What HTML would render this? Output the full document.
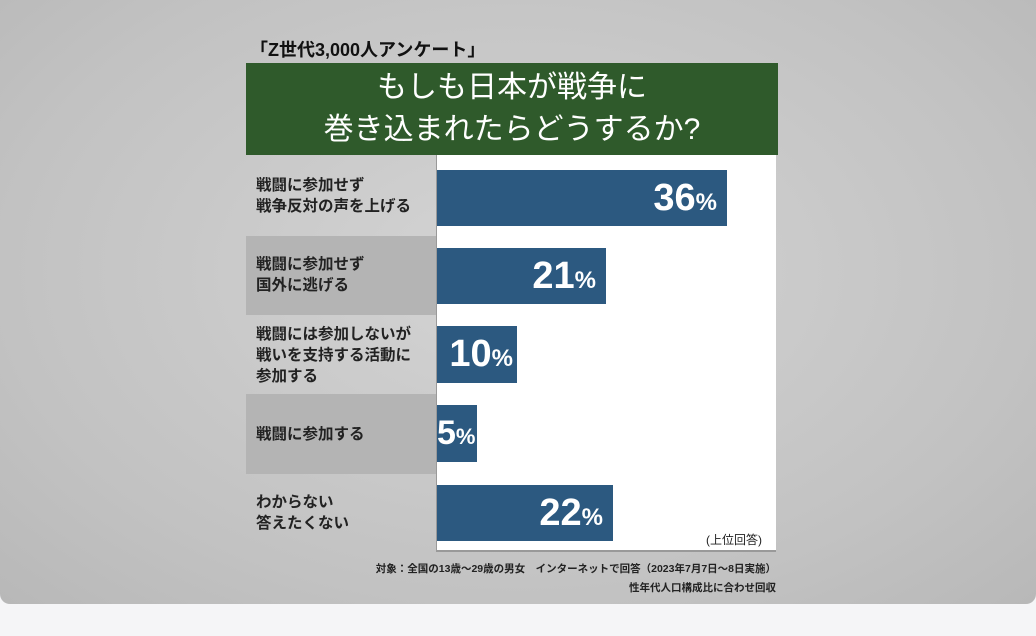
<!DOCTYPE html>
<html><head><meta charset="utf-8"><style>
body{margin:0;width:1036px;height:636px;background:#f5f5f7;position:relative;overflow:hidden;font-family:"Liberation Sans","Noto Sans CJK JP",sans-serif;}
.bg{position:absolute;left:0;top:0;width:1036px;height:604px;border-radius:0 0 10px 10px;background:radial-gradient(ellipse at 50% 45%,#d4d4d4,#c2c2c2 70%,#b8b8b8);}
.abs{position:absolute}
.hdr{left:246px;top:63px;width:532px;height:92px;background:#2f5a2b;color:#fff;text-align:center;font-size:30px;line-height:42px;padding-top:4px;box-sizing:border-box;}
.panel{left:436px;top:155px;width:340px;height:397px;background:#fff;border-left:1px solid #999;border-bottom:2px solid #999;box-sizing:border-box}
.row{left:246px;width:190px;}
.dark{background:#b4b4b4}
.lab{left:256px;font-size:15.5px;line-height:21px;color:#222;font-weight:bold}
.bar{left:437px;background:#2c5980;color:#fff;font-weight:bold;text-align:right;box-sizing:border-box;padding-right:10px;font-size:38px;line-height:56px}
.bar small{font-size:24px}
</style></head><body>
<div class="bg"></div>
<div class="abs" style="left:250px;top:36px;font-size:18px;font-weight:bold;color:#111">「Z世代3,000人アンケート」</div>
<div class="abs hdr">もしも日本が戦争に<br>巻き込まれたらどうするか?</div>
<div class="abs row dark" style="top:236px;height:79px"></div>
<div class="abs row dark" style="top:394px;height:80px"></div>
<div class="abs panel"></div>
<div class="abs lab" style="top:175px">戦闘に参加せず<br>戦争反対の声を上げる</div>
<div class="abs lab" style="top:254px">戦闘に参加せず<br>国外に逃げる</div>
<div class="abs lab" style="top:324px">戦闘には参加しないが<br>戦いを支持する活動に<br>参加する</div>
<div class="abs lab" style="top:424px">戦闘に参加する</div>
<div class="abs lab" style="top:492px">わからない<br>答えたくない</div>
<div class="abs bar" style="top:170px;width:290px;height:56px">36<small>%</small></div>
<div class="abs bar" style="top:248px;width:169px;height:56px">21<small>%</small></div>
<div class="abs bar" style="top:326px;width:80px;height:57px;padding-right:4px">10<small>%</small></div>
<div class="abs bar" style="top:405px;width:40px;height:57px;padding-right:2px;font-size:34px">5<small style="font-size:22px">%</small></div>
<div class="abs bar" style="top:485px;width:176px;height:56px">22<small>%</small></div>
<div class="abs" style="left:706px;top:531px;font-size:12px;color:#222">(上位回答)</div>
<div class="abs" style="left:340px;top:560px;width:436px;text-align:right;font-size:10.5px;font-weight:bold;color:#222;line-height:19px">対象：全国の13歳〜29歳の男女　インターネットで回答（2023年7月7日〜8日実施）<br>性年代人口構成比に合わせ回収</div>
</body></html>
